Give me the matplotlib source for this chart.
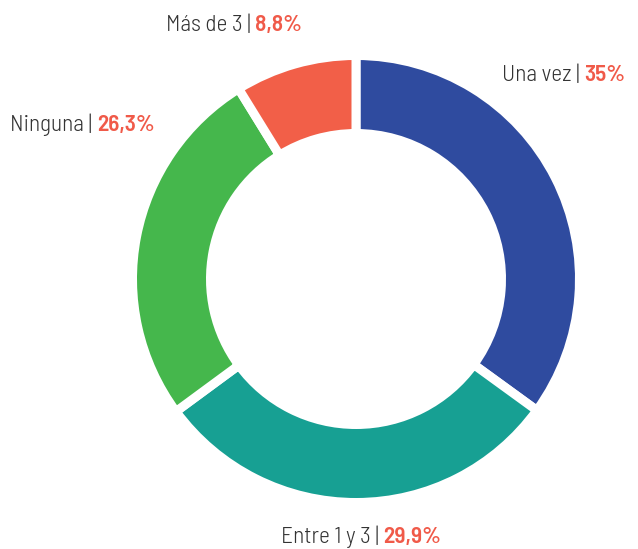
import matplotlib
matplotlib.use("Agg")
import matplotlib.pyplot as plt

categories = ["Una vez", "Entre 1 y 3", "Ninguna", "Más de 3"]
values = [35.0, 29.9, 26.3, 8.8]
value_labels = ["35%", "29,9%", "26,3%", "8,8%"]
colors = ["#2F4B9F", "#17A093", "#45B74C", "#F25F48"]

W, H = 638, 549
fig = plt.figure(figsize=(W / 100, H / 100), dpi=100)

ax2 = fig.add_axes([0, 0, 1, 1])
ax2.axis("off")
gap_px = 9
lw_pt = gap_px * 72 / 100
R = 219 + gap_px / 2
ring = 69 + gap_px
cx, cy = 356, H - 279
ax2.pie(values, colors=colors, startangle=90, counterclock=False,
        radius=R, center=(cx, cy),
        wedgeprops=dict(width=ring, edgecolor="white", linewidth=lw_pt))
ax2.set_xlim(0, W)
ax2.set_ylim(0, H)
ax2.set_aspect("equal")

ax = fig.add_axes([0, 0, 1, 1])
ax.set_xlim(0, W)
ax.set_ylim(H, 0)
ax.set_aspect("equal")
ax.axis("off")

fam = ["Barlow Semi Condensed", "DejaVu Sans"]
fs = 16.8
gray = "#333333"
red = "#F05A49"
# (split x, baseline y) for each label
label_pos = [(584, 81), (383, 543), (97, 131), (255, 31)]
for cat, vl, (sx, by) in zip(categories, value_labels, label_pos):
    ax.text(sx, by, cat + " | ", ha="right", va="baseline", fontsize=fs,
            family=fam, color=gray, fontweight=300)
    ax.text(sx, by, vl, ha="left", va="baseline", fontsize=fs,
            family=fam, color=red, fontweight=600)

fig.savefig("out.png", dpi=100)
